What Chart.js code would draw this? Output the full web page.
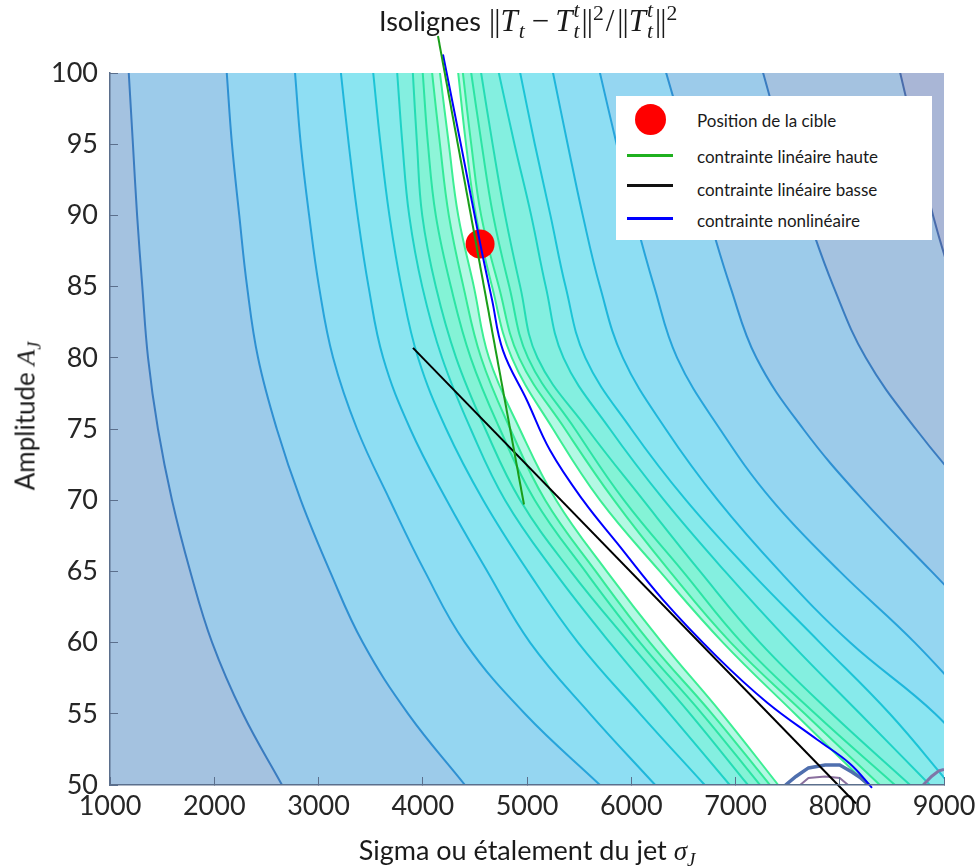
<!DOCTYPE html>
<html lang="fr">
<head>
<meta charset="utf-8">
<title>Isolignes</title>
<script src="https://cdn.jsdelivr.net/npm/chart.js@4.4.1/dist/chart.umd.min.js"></script>
<style>
  html, body { margin: 0; padding: 0; background: #ffffff; }
  #wrap { position: relative; width: 979px; height: 868px; overflow: hidden; }
  #chart { position: absolute; left: 0; top: 0; }
  .txt { position: absolute; font-family: Lato, 'DejaVu Sans', sans-serif; color: #1a1a1a; white-space: nowrap; }
  .mi { font-family: 'Liberation Serif', 'DejaVu Serif', serif; font-style: italic; }
  .mr { font-family: 'Liberation Serif', 'DejaVu Serif', serif; font-size: 31px; }
  .mr i { margin-right: 1px; }
  .nrm { letter-spacing: -1px; margin: 0 1px; font-weight: 300; }
  .op { margin: 0 6px; }
  sub, sup { font-size: 0.7em; line-height: 0; }
  .st { display: inline-block; font-size: 0.7em; line-height: 0.95em; vertical-align: -0.3em; }
  .st span { display: block; }
  #title { left: 379px; top: 0px; font-size: 27px; }
  #xlabel { left: 110px; width: 834px; top: 833px; font-size: 27px; text-align: center; }
  #ylabel { left: 25px; top: 416px; font-size: 26px; transform: translate(-50%, -50%) rotate(-90deg); }
  #legend { position: absolute; left: 616px; top: 96px; width: 316px; height: 144px; background: #ffffff; }
  #legend .lbl { position: absolute; left: 81px; font-family: Lato, 'DejaVu Sans', sans-serif; font-size: 17px; line-height: 20px; color: #1a1a1a; white-space: nowrap; }
  #legend .dot { position: absolute; left: 19px; top: 8px; width: 31px; height: 31px; border-radius: 50%; background: #ff0000; }
  #legend .ln { position: absolute; left: 11px; width: 46px; height: 3px; }
</style>
</head>
<body>
<div id="wrap">
  <canvas id="chart" width="979" height="868"></canvas>
  <div id="title" class="txt">Isolignes <span class="mr"><span class="nrm">||</span><i>T</i><sub><i>t</i></sub><span class="op">−</span><i>T</i><span class="st"><span><i>t</i></span><span><i>t</i></span></span><span class="nrm">||</span><sup>2</sup><span class="op" style="margin:0 2px">/</span><span class="nrm">||</span><i>T</i><span class="st"><span><i>t</i></span><span><i>t</i></span></span><span class="nrm">||</span><sup>2</sup></span></div>
  <div id="xlabel" class="txt">Sigma ou étalement du jet <span class="mi">σ</span><sub class="mi">J</sub></div>
  <div id="ylabel" class="txt">Amplitude <span class="mi">A</span><sub class="mi">J</sub></div>
  <div id="legend">
    <div class="dot"></div>
    <div class="lbl" style="top:15px">Position de la cible</div>
    <div class="ln" style="top:58px;background:#1fb01f"></div>
    <div class="lbl" style="top:51px">contrainte linéaire haute</div>
    <div class="ln" style="top:88px;background:#111111"></div>
    <div class="lbl" style="top:84px">contrainte linéaire basse</div>
    <div class="ln" style="top:121px;background:#0000ff"></div>
    <div class="lbl" style="top:115px">contrainte nonlinéaire</div>
  </div>
</div>
<script>
const ampLevels = [100, 95, 90, 85, 80, 75, 70, 65, 60, 55, 50];

// iso-lines on the left of the valley (outer -> inner), sigma at each amplitude
const leftIsoSigma = [
  [1180, 1220, 1260, 1310, 1365, 1460, 1595, 1770, 1980, 2275, 2650],
  [2120, 2170, 2240, 2315, 2420, 2600, 2830, 3110, 3425, 3860, 4405],
  [2775, 2830, 2910, 3005, 3140, 3370, 3685, 4020, 4405, 4980, 5700],
  [3215, 3290, 3375, 3480, 3620, 3880, 4230, 4620, 5030, 5605, 6230],
  [3525, 3595, 3680, 3795, 3955, 4225, 4580, 5010, 5490, 6085, 6705],
  [3755, 3805, 3870, 3995, 4185, 4460, 4790, 5260, 5795, 6370, 6945],
  [3905, 3945, 3995, 4125, 4320, 4600, 4935, 5420, 5980, 6565, 7120],
  [4000, 4050, 4125, 4270, 4460, 4740, 5075, 5560, 6085, 6680, 7235],
  [4090, 4165, 4250, 4390, 4560, 4840, 5175, 5660, 6180, 6775, 7330],
  [4165, 4250, 4340, 4490, 4635, 4930, 5280, 5765, 6295, 6870, 7410]
];

// iso-lines on the right of the valley (outer -> inner); values past 9000 continue off the frame
const rightIsoSigma = [
  [8580, 8740, 8895, 9105, 9395, 9730, 10110, 10500, 10880, 11260, 11650],
  [7265, 7460, 7690, 7940, 8250, 8730, 9300, 9950, 10590, 11170, 11745],
  [6335, 6535, 6740, 6950, 7200, 7650, 8225, 8880, 9535, 10115, 10690],
  [5700, 5860, 6030, 6220, 6440, 6850, 7350, 8000, 8720, 9345, 9920],
  [5250, 5390, 5535, 5700, 5920, 6330, 6830, 7425, 8100, 8915, 9535],
  [4935, 5075, 5225, 5370, 5560, 6000, 6525, 7140, 7810, 8480, 9060],
  [4730, 4880, 5040, 5180, 5350, 5795, 6315, 6900, 7525, 8195, 8865],
  [4560, 4670, 4790, 4935, 5100, 5580, 6115, 6660, 7235, 7925, 8675],
  [4465, 4565, 4675, 4830, 5010, 5460, 5930, 6495, 7060, 7765, 8530],
  [4385, 4465, 4560, 4730, 4925, 5365, 5835, 6370, 6955, 7665, 8385],
  [4340, 4415, 4510, 4665, 4855, 5250, 5700, 6275, 6880, 7570, 8270]
];

// level colours, outermost (highest) first
const lineColors = ['#4a6cab', '#3a7cc0', '#2f90d2', '#27a4db', '#1fb6db', '#1cc4d6',
                    '#1fd2c6', '#25dcb4', '#2ce4a4', '#34ea98', '#3cee94'];
const bandColors = ['#a4c2e0', '#9ccbea', '#95d6f1', '#8edef3', '#8ae5f1', '#87eaeb',
                    '#84efe0', '#84f3d6', '#8ef5d8', '#b4f8e4', '#ffffff'];
const cornerColor = '#a9b6d6';

// constraints, target and the small artefact loops at the bottom edge
const hautSigma = [4146, 4971];
const hautAmp = [102.6, 69.7];
const basseSigma = [3906, 8156];
const basseAmp = [80.7, 48.7];
const nonlinSigma = [4194, 4376, 4549, 4664, 4770, 5000, 5221, 5537, 5863, 6305, 6823, 7302, 7782, 8098, 8309];
const nonlinAmp = [101.3, 94.6, 88.1, 84.1, 80.5, 77.0, 73.5, 70.0, 67.0, 63.0, 59.0, 55.8, 53.2, 51.5, 49.8];
const cibleSigma = [4550];
const cibleAmp = [88];
const artefactSigma = [7480, 7580, 7700, 7860, 8000, 8120, 8200, 8280];
const artefactAmp = [50, 50.6, 51.2, 51.4, 51.4, 50.9, 50.5, 50];
const artefactInnerSigma = [7620, 7700, 7860, 8000, 8080];
const artefactInnerAmp = [50, 50.5, 50.6, 50.5, 50];
const artefactEdgeSigma = [8800, 8880, 8950, 9000];
const artefactEdgeAmp = [50, 50.6, 51.0, 51.1];

function zip(xs, ys) {
  return xs.map((x, i) => ({ x: x, y: ys[i] }));
}

function isoPoints(sig) {
  const n = sig.length;
  const pts = zip(sig, ampLevels);
  // carry the line one step past the frame so the bands close outside the plot
  pts.unshift({ x: 2 * sig[0] - sig[1], y: 2 * ampLevels[0] - ampLevels[1] });
  pts.push({ x: 2 * sig[n - 1] - sig[n - 2], y: 2 * ampLevels[n - 1] - ampLevels[n - 2] });
  return pts;
}

const curve = { tension: 0.4, capBezierPoints: false };

function isoLine(sig, color) {
  return Object.assign({
    data: isoPoints(sig), indexAxis: 'y', showLine: true, fill: false,
    borderColor: color, borderWidth: 2, pointRadius: 0, order: 50
  }, curve);
}

function band(sig, target, color, order) {
  return Object.assign({
    data: isoPoints(sig), indexAxis: 'y', showLine: true, fill: target,
    backgroundColor: color, borderColor: 'rgba(0,0,0,0)', borderWidth: 0, pointRadius: 0,
    order: order
  }, curve);
}

const datasets = [];
// indices 0..10 : right lines R1..R11
rightIsoSigma.forEach((s, i) => datasets.push(isoLine(s, lineColors[i])));
// next : left lines L1..L10
leftIsoSigma.forEach((s, i) => datasets.push(isoLine(s, lineColors[i + 1])));
// region beyond R1 (top right corner)
datasets.push(band(rightIsoSigma[0], { value: 100000 }, cornerColor, 200));
// band k lies between L_k and R_(k+1); R_(k+1) sits at index k
leftIsoSigma.forEach((s, i) => datasets.push(band(s, i + 1, bandColors[i + 1], 199 - i)));

datasets.push({
  data: zip(artefactSigma, artefactAmp), showLine: true,
  borderColor: '#4f6fae', borderWidth: 3.5, pointRadius: 0, order: 40
});
datasets.push({
  data: zip(artefactInnerSigma, artefactInnerAmp), showLine: true,
  borderColor: '#8a6f9e', borderWidth: 2, pointRadius: 0, order: 40
});
datasets.push({
  data: zip(artefactEdgeSigma, artefactEdgeAmp), showLine: true,
  borderColor: '#7f76a8', borderWidth: 3, pointRadius: 0, order: 40
});
datasets.push({
  label: 'Position de la cible', data: zip(cibleSigma, cibleAmp),
  pointRadius: 14.5, pointBackgroundColor: '#ff0000', pointBorderWidth: 0,
  clip: false, order: 20
});
datasets.push({
  label: 'contrainte linéaire haute', data: zip(hautSigma, hautAmp), showLine: true,
  borderColor: '#1a9e1a', borderWidth: 2, pointRadius: 0, clip: false, order: 10
});
datasets.push({
  label: 'contrainte linéaire basse', data: zip(basseSigma, basseAmp), showLine: true,
  borderColor: '#000000', borderWidth: 2, pointRadius: 0, clip: false, order: 10
});
datasets.push(Object.assign({
  label: 'contrainte nonlinéaire', data: zip(nonlinSigma, nonlinAmp), showLine: true,
  borderColor: '#0000ff', borderWidth: 2, pointRadius: 0, clip: false, order: 10
}, curve));

const plotBackground = {
  id: 'plotBackground',
  beforeDraw(chart) {
    const { ctx, chartArea: a } = chart;
    ctx.save();
    ctx.fillStyle = bandColors[0];
    ctx.fillRect(a.left, a.top, a.right - a.left, a.bottom - a.top);
    ctx.restore();
  }
};

const axisColor = '#5b6f8c';
const tickFont = { family: "Lato, 'DejaVu Sans', sans-serif", size: 27 };

new Chart(document.getElementById('chart'), {
  type: 'scatter',
  data: { datasets: datasets },
  options: {
    responsive: false,
    animation: false,
    events: [],
    layout: { padding: { left: 0, top: 73, right: 35, bottom: 0 } },
    plugins: { legend: { display: false }, tooltip: { enabled: false } },
    scales: {
      x: {
        type: 'linear', min: 1000, max: 9000,
        afterFit: s => { s.height = 83; s.paddingLeft = 0; s.paddingRight = 0; },
        ticks: { stepSize: 1000, padding: 13, color: '#262626', font: tickFont, maxRotation: 0, autoSkip: false, callback: v => String(v) },
        grid: { drawOnChartArea: false, tickLength: -8, color: axisColor, z: 1 },
        border: { color: axisColor, width: 1.5, z: 1 }
      },
      y: {
        type: 'linear', min: 50, max: 100,
        afterFit: s => { s.width = 110; s.paddingTop = 0; s.paddingBottom = 0; },
        ticks: { stepSize: 5, padding: 20, color: '#262626', font: tickFont, autoSkip: false, callback: v => String(v) },
        grid: { drawOnChartArea: false, tickLength: -8, color: axisColor, z: 1 },
        border: { color: axisColor, width: 1.5, z: 1 }
      }
    }
  },
  plugins: [plotBackground]
});
</script>
</body>
</html>
